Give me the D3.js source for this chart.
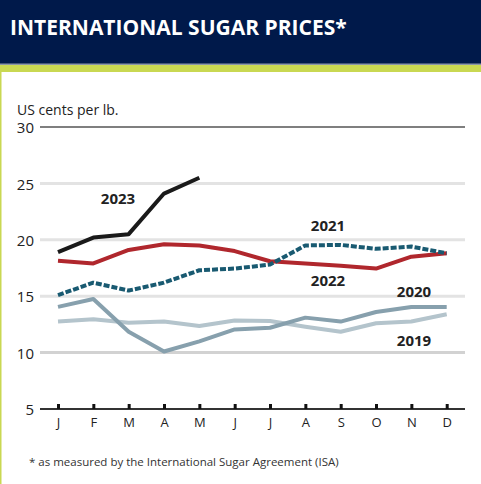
<!DOCTYPE html>
<html><head><meta charset="utf-8">
<script src="https://cdn.jsdelivr.net/npm/d3@7"></script>
<style>body{margin:0;background:#fff;}svg{display:block;}</style>
</head><body>
<script>
const months = ["J","F","M","A","M","J","J","A","S","O","N","D"];
const yTicks = [5,10,15,20,25,30];
const s2019 = [12.75,12.95,12.65,12.75,12.35,12.85,12.8,12.3,11.85,12.6,12.75,13.4];
const s2020 = [14.05,14.75,11.85,10.1,11.0,12.05,12.2,13.1,12.75,13.6,14.05,14.05];
const s2021 = [15.1,16.2,15.5,16.2,17.3,17.45,17.8,19.5,19.55,19.2,19.4,18.8];
const s2022 = [18.15,17.9,19.1,19.6,19.5,19.0,18.1,17.9,17.7,17.45,18.5,18.8];
const s2023 = [18.9,20.2,20.5,24.1,25.5];
const seriesNames = ["2019","2020","2021","2022","2023"];

const W=481,H=484;
const svg=d3.select("body").append("svg").attr("width",W).attr("height",H);
svg.append("rect").attr("width",W).attr("height",H).attr("fill","#fff");
// header
svg.append("rect").attr("x",0).attr("y",0).attr("width",W).attr("height",64).attr("fill","#00194a");
svg.append("rect").attr("x",0).attr("y",63.5).attr("width",W).attr("height",1.5).attr("fill","#8c97a8");
svg.append("rect").attr("x",0).attr("y",65).attr("width",W).attr("height",7).attr("fill","#c9d852");
svg.append("rect").attr("x",0).attr("y",65).attr("width",1.5).attr("height",H-65).attr("fill","#c9d852");
svg.append("text").attr("x",10).attr("y",35).text("INTERNATIONAL SUGAR PRICES*")
  .attr("fill","#fff").attr("font-family","Open Sans").attr("font-weight","bold").attr("font-size",21);

const x=d3.scalePoint().domain(d3.range(12)).range([58,446.7]);
const y=d3.scaleLinear().domain([5,30]).range([409,127]);

// grid
yTicks.forEach(t=>{
  if(t===5) return;
  svg.append("line").attr("x1",40).attr("x2",465).attr("y1",y(t)).attr("y2",y(t))
    .attr("stroke", t===30?"#7f7f7f":(t===10?"#d2d2d2":"#e3e3e3")).attr("stroke-width", t===30?2:3);
});
const yAxis=svg.append("g").attr("transform","translate(34,0)")
  .call(d3.axisLeft(y).tickValues(yTicks).tickSize(0).tickPadding(0));
yAxis.select(".domain").remove();
yAxis.selectAll("text").attr("font-family","Open Sans").attr("font-size",15).attr("fill","#222").attr("dy","0.38em");

svg.append("text").attr("x",17).attr("y",115).text("US cents per lb.")
  .attr("font-family","Open Sans").attr("font-size",14).attr("fill","#222");

// x axis
svg.append("line").attr("x1",40).attr("x2",465).attr("y1",409).attr("y2",409).attr("stroke","#333").attr("stroke-width",2);
const xAxis=svg.append("g").attr("transform","translate(0,409)")
  .call(d3.axisBottom(x).tickFormat(i=>months[i]).tickSizeInner(-5).tickSizeOuter(0).tickPadding(9));
xAxis.select(".domain").remove();
xAxis.selectAll(".tick line").attr("stroke","#111").attr("stroke-width",3);
xAxis.selectAll("text").attr("font-family","Open Sans").attr("font-size",13).attr("fill","#222");

const line=d3.line().x((d,i)=>x(i)).y(d=>y(d));
const styles=[
  {d:s2019,c:"#b4c4cc",dash:null},
  {d:s2020,c:"#87a0ad",dash:null},
  {d:s2022,c:"#b0272d",dash:null},
  {d:s2021,c:"#195a71",dash:"6,2"},
  {d:s2023,c:"#1a1a1a",dash:null}
];
styles.forEach(s=>{
  svg.append("path").attr("d",line(s.d)).attr("fill","none").attr("stroke",s.c)
    .attr("stroke-width",4).attr("stroke-linejoin","round")
    .attr("stroke-dasharray",s.dash);
});

const labels=[["2023",118,204],["2021",328,231],["2022",328,286],["2020",414,297],["2019",414,346]];
labels.forEach(l=>{
  svg.append("text").attr("x",l[1]).attr("y",l[2]).attr("text-anchor","middle").text(l[0])
    .attr("font-family","Open Sans").attr("font-weight","bold").attr("font-size",15).attr("fill","#222");
});

svg.append("text").attr("x",29).attr("y",466).text("* as measured by the International Sugar Agreement (ISA)")
  .attr("font-family","Open Sans").attr("font-size",11.5).attr("fill","#333");
</script>
</body></html>
